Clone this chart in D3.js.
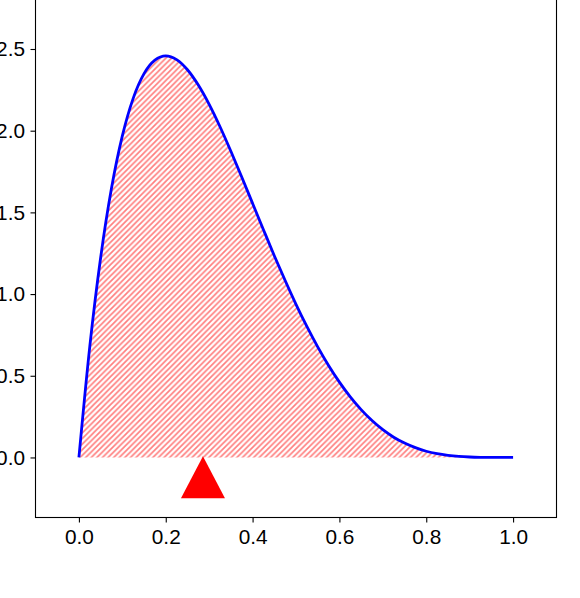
<!DOCTYPE html>
<html>
<head>
<meta charset="utf-8">
<script src="https://cdn.jsdelivr.net/npm/d3@7"></script>
<style>
  html, body { margin: 0; padding: 0; background: #fff; }
  svg { display: block; }
  .tick text { font-family: "Liberation Sans", Arial, sans-serif; }
</style>
</head>
<body>
<div id="chart"></div>
<script>
// ---- data ----
const xValues = [0, 0.025, 0.05, 0.075, 0.1, 0.125, 0.15, 0.175, 0.2, 0.225, 0.25, 0.275, 0.3, 0.325, 0.35, 0.375, 0.4, 0.425, 0.45, 0.475, 0.5, 0.525, 0.55, 0.575, 0.6, 0.625, 0.65, 0.675, 0.7, 0.725, 0.75, 0.775, 0.8, 0.825, 0.85, 0.875, 0.9, 0.925, 0.95, 0.975, 1.0];
const densityValues = [0, 0.678, 1.222, 1.647, 1.968, 2.198, 2.349, 2.432, 2.458, 2.435, 2.373, 2.279, 2.161, 2.024, 1.874, 1.717, 1.555, 1.394, 1.235, 1.083, 0.9375, 0.802, 0.677, 0.563, 0.461, 0.371, 0.293, 0.226, 0.170, 0.124, 0.088, 0.060, 0.038, 0.023, 0.013, 0.0064, 0.0027, 0.0009, 0.0002, 0.00001, 0];
const meanValue = [0.2857];
const markerLevel = [-0.121];
const xTicks = [0.0, 0.2, 0.4, 0.6, 0.8, 1.0];
const yTicks = [0.0, 0.5, 1.0, 1.5, 2.0, 2.5];

(function () {
const W = 580, H = 598;
const svg = d3.select("#chart").append("svg").attr("width", W).attr("height", H);

const x = d3.scaleLinear().domain([-0.1, 1.1]).range([35.5, 556.5]);
const y = d3.scaleLinear().domain([-0.3675, 2.5]).range([517.5, 49]);

const defs = svg.append("defs");
const s = 5.6;
const pat = defs.append("pattern")
  .attr("id", "hatch").attr("patternUnits", "userSpaceOnUse")
  .attr("width", s).attr("height", s);
pat.append("path")
  .attr("d", `M0,${s} L${s},0 M${-s/4},${s/4} L${s/4},${-s/4} M${s*3/4},${s*5/4} L${s*5/4},${s*3/4}`)
  .attr("stroke", "#ff7f7f").attr("stroke-width", 1.7).attr("fill", "none");

const pts = xValues.map((v, i) => [v, densityValues[i]]);

svg.append("path")
  .datum(pts)
  .attr("fill", "url(#hatch)")
  .attr("d", d3.area().x(d => x(d[0])).y0(y(0)).y1(d => y(d[1])).curve(d3.curveMonotoneX));

svg.append("path")
  .datum(pts)
  .attr("fill", "none").attr("stroke", "#0000ff").attr("stroke-width", 2.8)
  .attr("stroke-linejoin", "round")
  .attr("d", d3.line().x(d => x(d[0])).y(d => y(d[1])).curve(d3.curveMonotoneX));

// mean marker (triangle)
svg.selectAll(".mk").data(meanValue).enter().append("path")
  .attr("class", "mk")
  .attr("transform", (d, i) => `translate(${x(d)},${y(markerLevel[i])})`)
  .attr("d", "M0,-21 L22,21 L-22,21 Z")
  .attr("fill", "#ff0000");

// axes
const xAxis = svg.append("g").attr("transform", `translate(0,${y.range()[0]})`)
  .call(d3.axisBottom(x).tickValues(xTicks).tickFormat(d3.format(".1f")).tickSize(5).tickPadding(6.5).tickSizeOuter(0));
const yAxis = svg.append("g").attr("transform", `translate(${x.range()[0]},0)`)
  .call(d3.axisLeft(y).tickValues(yTicks).tickFormat(d3.format(".1f")).tickSize(5).tickPadding(5.5).tickSizeOuter(0));
[xAxis, yAxis].forEach(g => {
  g.select(".domain").remove();
  g.selectAll(".tick line").attr("stroke", "#000").attr("stroke-width", 1.1);
  g.selectAll(".tick text").attr("fill", "#000").style("font-size", "20.8px");
});

// frame (top edge lies above the visible area)
const frameTop = y(2.9);
svg.append("rect")
  .attr("x", x.range()[0]).attr("y", frameTop)
  .attr("width", x.range()[1] - x.range()[0]).attr("height", y.range()[0] - frameTop)
  .attr("fill", "none").attr("stroke", "#000").attr("stroke-width", 1.1);
})();
</script>
</body>
</html>
